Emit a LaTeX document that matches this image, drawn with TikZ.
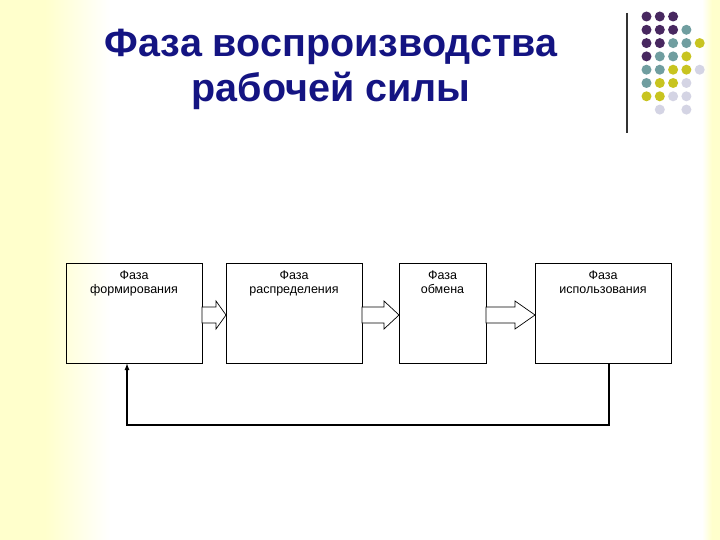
\documentclass[tikz,border=0pt]{standalone}
\usepackage{fontspec}
\setmainfont{Liberation Sans}
\usetikzlibrary{arrows.meta, positioning, calc}
\definecolor{TitleBlue}{RGB}{20,20,130}
\definecolor{SlideYellow}{RGB}{255,255,204}
\definecolor{DotPurple}{RGB}{72,40,96}
\definecolor{DotTeal}{RGB}{112,158,160}
\definecolor{DotOlive}{RGB}{200,196,32}
\definecolor{DotLilac}{RGB}{212,212,228}

\begin{document}
\begin{tikzpicture}[x=1pt, y=-1pt,
	title/.style={font=\fontsize{39.5}{45}\selectfont\bfseries, text=TitleBlue, align=center, inner sep=0pt},
	phase/.style={draw, line width=0.8pt, minimum width=136pt, minimum height=100pt, inner sep=0pt, outer sep=0pt},
	phasetext/.style={font=\fontsize{12.5}{14}\selectfont, align=center, inner sep=0pt},
	hollow/.style={draw, fill=white, line width=0.7pt, line join=miter},
	feedback/.style={line width=1.3pt, -{Latex[length=7pt, width=5pt]}}]
	\useasboundingbox (0,0) rectangle (720,540);
	% fondo de la diapositiva
	\fill[white] (0,0) rectangle (720,540);
	\fill[SlideYellow] (0,0) rectangle (45,540);
	\shade[left color=SlideYellow, right color=white] (45,0) rectangle (110,540);
	\shade[left color=white, right color=SlideYellow] (702,0) rectangle (712,540);
	\fill[SlideYellow] (712,0) rectangle (720,540);
	% adorno de puntos
	\draw[line width=1.2pt, black!80] (627,13) -- (627,133);
	\foreach \c/\r/\col in {1/1/DotPurple, 2/1/DotPurple, 3/1/DotPurple,
		1/2/DotPurple, 2/2/DotPurple, 3/2/DotPurple, 4/2/DotTeal,
		1/3/DotPurple, 2/3/DotPurple, 3/3/DotTeal, 4/3/DotTeal, 5/3/DotOlive,
		1/4/DotPurple, 2/4/DotTeal, 3/4/DotTeal, 4/4/DotOlive,
		1/5/DotTeal, 2/5/DotTeal, 3/5/DotOlive, 4/5/DotOlive, 5/5/DotLilac,
		1/6/DotTeal, 2/6/DotOlive, 3/6/DotOlive, 4/6/DotLilac,
		1/7/DotOlive, 2/7/DotOlive, 3/7/DotLilac, 4/7/DotLilac,
		2/8/DotLilac, 4/8/DotLilac}
		\fill[\col] (633.2+13.3*\c, 3.2+13.3*\r) circle (5pt);
	\node[title] (title) at (331,69) {Фаза воспроизводства\\рабочей силы};
	% fases
	\node[phase] (form) at (134,313) {};
	\node[phase, right=24pt of form] (dist) {};
	\node[phase, minimum width=87pt, right=37pt of dist] (exch) {};
	\node[phase, right=49pt of exch] (use) {};
	\node[phasetext, below=8pt of form.north] (form-txt) {Фаза\\формирования};
	\node[phasetext, below=8pt of dist.north] (dist-txt) {Фаза\\распределения};
	\node[phasetext, below=8pt of exch.north] (exch-txt) {Фаза\\обмена};
	\node[phasetext, below=8pt of use.north] (use-txt) {Фаза\\использования};
	% flechas huecas
	\foreach \a/\b/\h in {form/dist/10, dist/exch/15, exch/use/20}
		\draw[hollow] ([yshift=6pt]\a.east) -- ([xshift=-\h, yshift=6pt]\b.west)
			-- ([xshift=-\h, yshift=12pt]\b.west) -- ([yshift=-2pt]\b.west)
			-- ([xshift=-\h, yshift=-16pt]\b.west) -- ([xshift=-\h, yshift=-10pt]\b.west)
			-- ([yshift=-10pt]\a.east) -- cycle;
	% retorno
	\draw[feedback] ([xshift=6pt]use.south) -- ++(0,62) -| ([xshift=-7pt]form.south);
\end{tikzpicture}
\end{document}
